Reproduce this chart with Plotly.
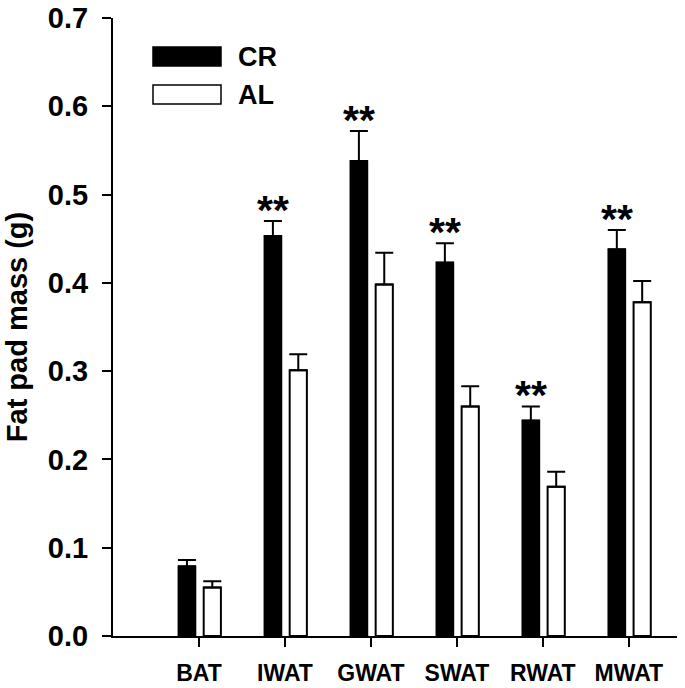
import plotly.graph_objects as go

categories = ["BAT", "IWAT", "GWAT", "SWAT", "RWAT", "MWAT"]
cr_mean = [0.079, 0.453, 0.538, 0.423, 0.244, 0.438]
cr_err = [0.007, 0.017, 0.034, 0.022, 0.016, 0.022]
al_mean = [0.055, 0.301, 0.398, 0.260, 0.169, 0.378]
al_err = [0.007, 0.018, 0.036, 0.023, 0.017, 0.024]
significant = [False, True, True, True, True, True]
y_ticks = [0, 0.1, 0.2, 0.3, 0.4, 0.5, 0.6, 0.7]

FONT = "Liberation Sans, Arial, sans-serif"
BAR_W = 0.2
CR_OFF = -0.24
AL_OFF = 0.055

PW, PH = 564, 618

fig = go.Figure()
fig.add_trace(go.Bar(
    x=categories, y=cr_mean, name="CR",
    width=BAR_W, offset=CR_OFF,
    marker=dict(color="black", line=dict(color="black", width=1.5)),
    error_y=dict(type="data", symmetric=False, array=cr_err,
                 arrayminus=[0] * len(cr_err), color="black", thickness=2, width=9),
))
fig.add_trace(go.Bar(
    x=categories, y=al_mean, name="AL",
    width=BAR_W, offset=AL_OFF,
    marker=dict(color="white", line=dict(color="black", width=2)),
    error_y=dict(type="data", symmetric=False, array=al_err,
                 arrayminus=[0] * len(al_err), color="black", thickness=2, width=9),
))

for i, (m, e, s) in enumerate(zip(cr_mean, cr_err, significant)):
    if s:
        fig.add_annotation(
            x=i + CR_OFF + BAR_W / 2, y=m + e, xref="x", yref="y",
            text="<b>**</b>", showarrow=False, yanchor="bottom", yshift=-14,
            font=dict(family=FONT, size=41, color="black"),
        )

# legend drawn in paper coords
legend_items = [("CR", "black"), ("AL", "white")]
for k, (lab, col) in enumerate(legend_items):
    y0 = 1 - (47 - 18) / PH - k * (38 / PH)
    fig.add_shape(type="rect", xref="paper", yref="paper",
                  x0=(153 - 113) / PW, x1=(221 - 113) / PW,
                  y0=y0 - 19 / PH, y1=y0,
                  fillcolor=col, line=dict(color="black", width=1.5))
    fig.add_annotation(xref="paper", yref="paper",
                       x=(236 - 113) / PW, y=y0 - 9.5 / PH,
                       text=f"<b>{lab}</b>", showarrow=False,
                       xanchor="left", yanchor="middle",
                       font=dict(family=FONT, size=27, color="black"))

fig.update_layout(
    width=685, height=688,
    margin=dict(l=113, r=8, t=18, b=52),
    paper_bgcolor="white", plot_bgcolor="white",
    showlegend=False, barmode="overlay",
    font=dict(family=FONT, color="black"),
)
fig.update_xaxes(
    type="category", range=[-1.0, 5.56], automargin=False,
    showline=True, linecolor="black", linewidth=2,
    ticks="outside", ticklen=9, tickwidth=2, tickcolor="black",
    tickfont=dict(family=FONT, size=23, color="black"),
    tickvals=categories, ticktext=[f"<b>{c}</b>" for c in categories],
    ticklabelstandoff=6,
    showgrid=False, zeroline=False,
)
fig.update_yaxes(
    range=[0, 0.7], automargin=False, tickvals=y_ticks,
    ticktext=[f"<b>{v:.1f}</b>" for v in y_ticks],
    showline=True, linecolor="black", linewidth=2,
    ticks="outside", ticklen=9, tickwidth=2, tickcolor="black",
    tickfont=dict(family=FONT, size=29, color="black"),
    ticklabelstandoff=8, ticklabeloverflow="allow",
    showgrid=False, zeroline=False,
    title=dict(text="<b>Fat pad mass (g)</b>", font=dict(family=FONT, size=29, color="black"), standoff=12),
)

fig.write_html("out.html", config={"displayModeBar": False},
               post_script="document.body.style.margin='0';")
